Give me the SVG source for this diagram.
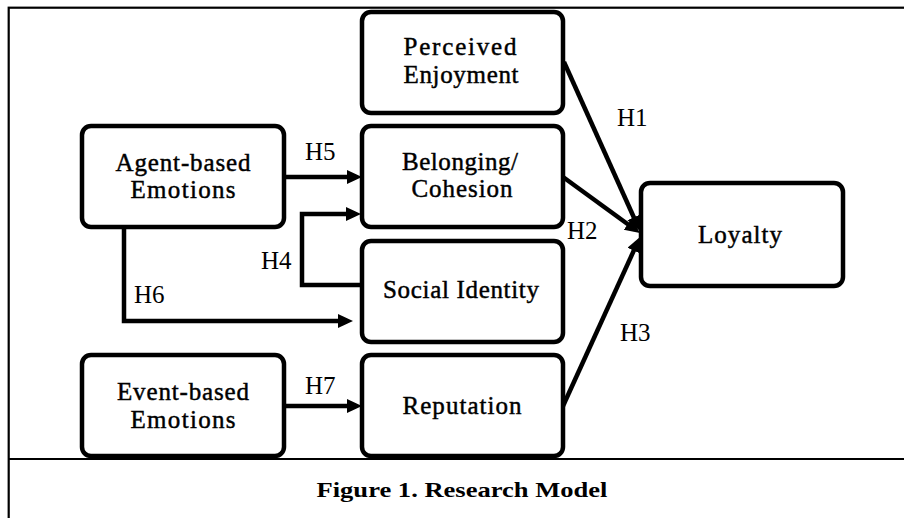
<svg xmlns="http://www.w3.org/2000/svg" width="904" height="518" viewBox="0 0 904 518">
<style>
  .box { fill: #fff; stroke: #000; stroke-width: 4.5; }
  .node { font-family: "Liberation Serif", serif; font-size: 25px; fill: #000; stroke: #000; stroke-width: 0.45; text-anchor: middle; }
  .lbl { font-family: "Liberation Serif", serif; font-size: 25px; fill: #000; }
  .con { fill: none; stroke: #000; stroke-width: 4.5; stroke-linejoin: miter; }
  .frame { fill: none; stroke: #000; stroke-width: 2.2; }
  .cap { font-family: "Liberation Serif", serif; font-size: 22px; font-weight: bold; fill: #000; text-anchor: middle; }
</style>
<defs>
  <marker id="arr" markerUnits="userSpaceOnUse" markerWidth="16" markerHeight="16" viewBox="0 0 16 16" refX="9" refY="7" orient="auto">
    <path d="M0,0 L15,7 L0,14 Z" fill="#000"/>
  </marker>
</defs>
<rect width="904" height="518" fill="#fff"/>
<g id="frame">
  <rect class="frame" x="8.7" y="7.7" width="930" height="540"/>
  <line class="frame" x1="8" y1="459" x2="904" y2="459"/>
</g>
<g id="connectors">
  <path class="con" d="M284,177 L356,177" marker-end="url(#arr)"/>
  <path class="con" d="M362,285 L302,285 L302,214 L355,214" marker-end="url(#arr)"/>
  <path class="con" d="M124,227 L124,321 L347,321" marker-end="url(#arr)"/>
  <path class="con" d="M284,406 L356,406" marker-end="url(#arr)"/>
  <path class="con" d="M564,62 L637.5,225.5" stroke-width="3.8" marker-end="url(#arr)"/>
  <path class="con" d="M563,177 L635.1,229.5" stroke-width="5" marker-end="url(#arr)"/>
  <path class="con" d="M563,406 L637.5,242.5" stroke-width="4" marker-end="url(#arr)"/>
  <text class="lbl" x="617" y="126">H1</text>
  <text class="lbl" x="567" y="239">H2</text>
  <text class="lbl" x="620" y="341">H3</text>
  <text class="lbl" x="261" y="269">H4</text>
  <text class="lbl" x="305" y="160">H5</text>
  <text class="lbl" x="134" y="303">H6</text>
  <text class="lbl" x="305" y="394">H7</text>
</g>
<g id="perceived-enjoyment">
  <rect class="box" x="362" y="12" width="201" height="101" rx="9"/>
  <text class="node" x="460" y="55" textLength="113" lengthAdjust="spacing">Perceived</text>
  <text class="node" x="461" y="83" textLength="115" lengthAdjust="spacing">Enjoyment</text>
</g>
<g id="belonging-cohesion">
  <rect class="box" x="362" y="126" width="201" height="101" rx="9"/>
  <text class="node" x="460" y="170" textLength="116" lengthAdjust="spacing">Belonging/</text>
  <text class="node" x="462" y="197" textLength="101" lengthAdjust="spacing">Cohesion</text>
</g>
<g id="social-identity">
  <rect class="box" x="362" y="241" width="201" height="101" rx="9"/>
  <text class="node" x="461" y="298" textLength="156" lengthAdjust="spacing">Social Identity</text>
</g>
<g id="reputation">
  <rect class="box" x="362" y="355" width="201" height="101" rx="9"/>
  <text class="node" x="462" y="414" textLength="119" lengthAdjust="spacing">Reputation</text>
</g>
<g id="agent-based-emotions">
  <rect class="box" x="82" y="126" width="202" height="101" rx="9"/>
  <text class="node" x="183" y="171" textLength="135" lengthAdjust="spacing">Agent-based</text>
  <text class="node" x="183" y="198" textLength="105" lengthAdjust="spacing">Emotions</text>
</g>
<g id="event-based-emotions">
  <rect class="box" x="82" y="355" width="202" height="101" rx="9"/>
  <text class="node" x="183" y="400" textLength="132" lengthAdjust="spacing">Event-based</text>
  <text class="node" x="183" y="428" textLength="105" lengthAdjust="spacing">Emotions</text>
</g>
<g id="loyalty">
  <rect class="box" x="641" y="183" width="202" height="103" rx="9"/>
  <text class="node" x="740" y="243" textLength="84" lengthAdjust="spacing">Loyalty</text>
</g>
<g id="caption">
  <text class="cap" x="462" y="497" textLength="291" lengthAdjust="spacingAndGlyphs">Figure 1. Research Model</text>
</g>
</svg>
